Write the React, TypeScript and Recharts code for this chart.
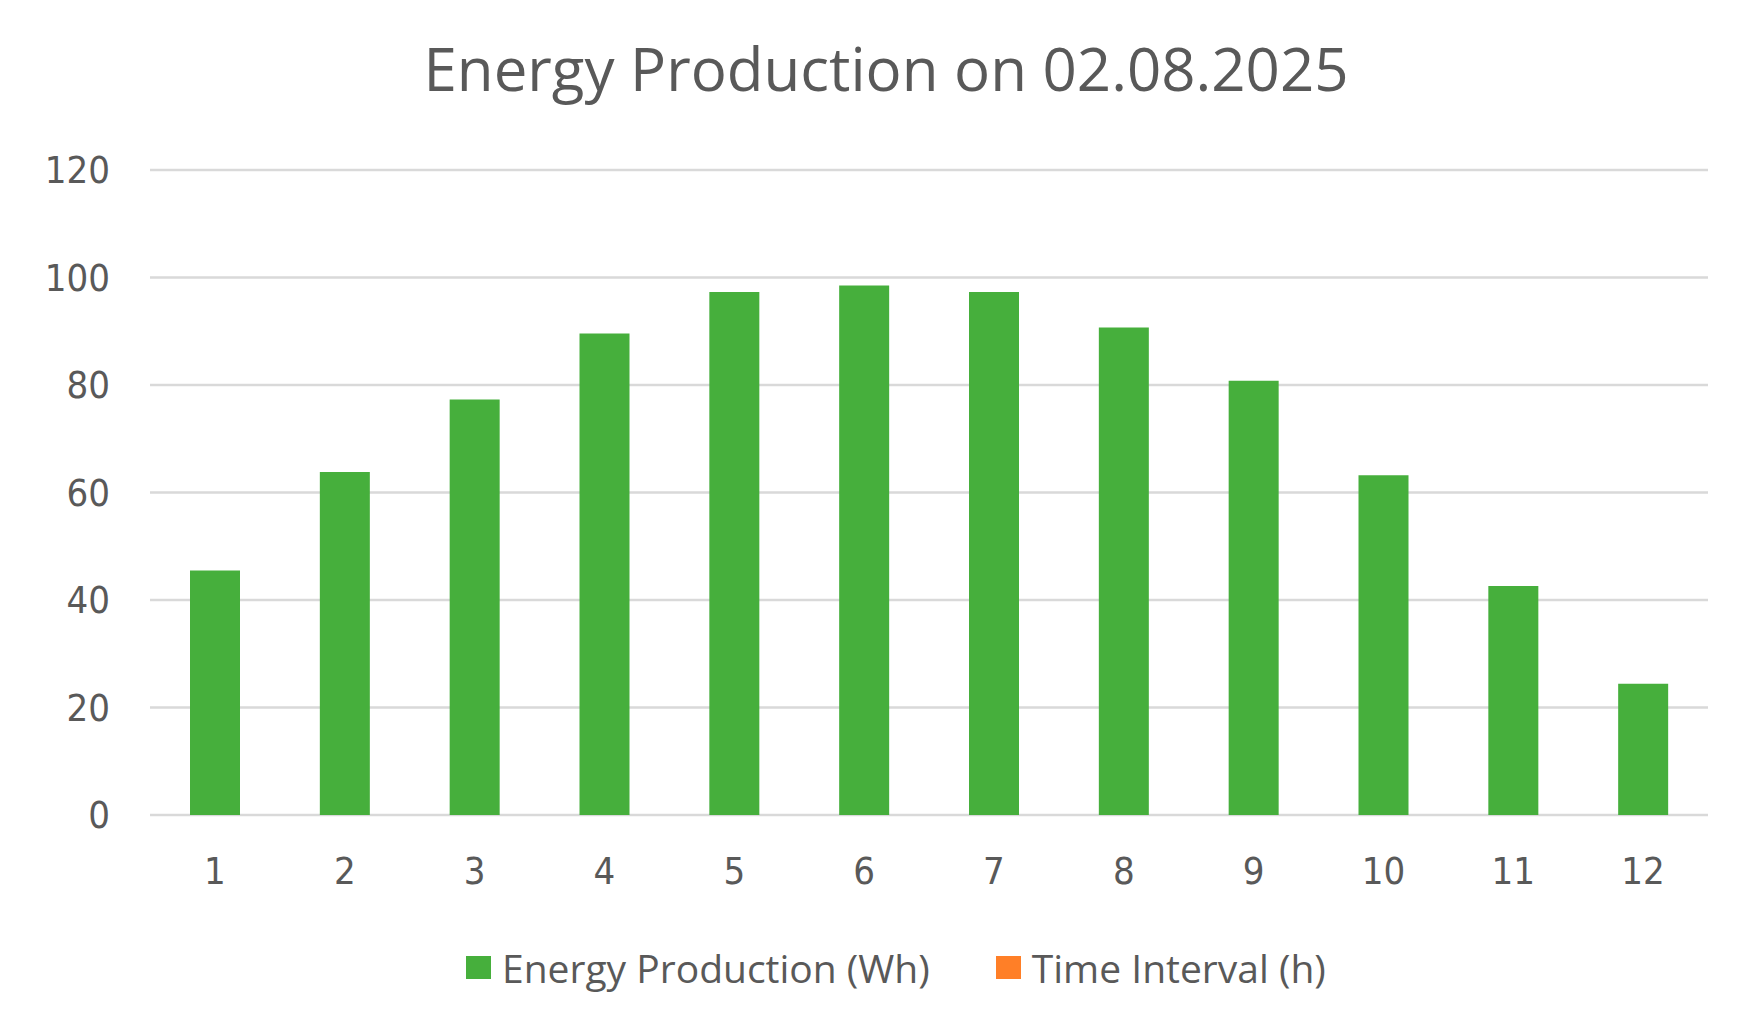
import React from "react";
import { BarChart, Bar, XAxis, YAxis, CartesianGrid } from "recharts";

const categories = ["1", "2", "3", "4", "5", "6", "7", "8", "9", "10", "11", "12"];
const energyWh = [45.5, 63.8, 77.3, 89.6, 97.3, 98.5, 97.3, 90.7, 80.8, 63.2, 42.6, 24.4];
const yTicks = [0, 20, 40, 60, 80, 100, 120];
const seriesNames = ["Energy Production (Wh)", "Time Interval (h)"];
const seriesColors = ["#46AF3C", "#FF7F27"];
const titleText = "Energy Production on 02.08.2025";

const data = categories.map((c, i) => ({ cat: c, energy: energyWh[i] }));

const TEXT = "#595959";
const GRID = "#D9D9D9";
const NARROW = "'Open Sans', sans-serif";
const tickStyle = {
  fill: TEXT,
  fontSize: 38,
  style: { fontFamily: "'DejaVu Sans Condensed', 'DejaVu Sans'", fontStretch: "condensed" },
};

export default function App() {
  return (
    <div style={{ position: "relative", width: 1755, height: 1030, background: "#fff" }}>
      <style>{"body{margin:0;}"}</style>
      <div
        style={{
          position: "absolute",
          left: 0,
          top: 38,
          width: 1772,
          textAlign: "center",
          fontFamily: NARROW,
          fontSize: 60,
          lineHeight: "60px",
          color: TEXT,
          whiteSpace: "nowrap",
        }}
      >
        {titleText}
      </div>
      <BarChart
        width={1755}
        height={1030}
        data={data}
        margin={{ top: 170, right: 47, bottom: 135, left: 0 }}
      >
        <CartesianGrid vertical={false} stroke={GRID} strokeWidth={2.5} />
        <XAxis
          dataKey="cat"
          axisLine={false}
          tickLine={false}
          tickSize={0}
          tickMargin={42}
          height={80}
          interval={0}
          tick={tickStyle}
        />
        <YAxis
          domain={[0, 120]}
          ticks={yTicks}
          width={150}
          axisLine={false}
          tickLine={false}
          tickSize={0}
          tickMargin={40}
          tick={tickStyle}
        />
        <Bar dataKey="energy" fill={seriesColors[0]} barSize={50} isAnimationActive={false} />
      </BarChart>
      <div
        style={{
          position: "absolute",
          left: 466,
          top: 942,
          height: 50,
          display: "flex",
          alignItems: "center",
          fontFamily: NARROW,
          fontSize: 39,
          color: TEXT,
          whiteSpace: "nowrap",
        }}
      >
        {seriesNames.map((name, i) => (
          <div key={name} style={{ display: "flex", alignItems: "center", marginRight: i === 0 ? 66 : 0 }}>
            <div style={{ width: 25, height: 23, background: seriesColors[i], marginRight: 11 }} />
            <span>{name}</span>
          </div>
        ))}
      </div>
    </div>
  );
}
